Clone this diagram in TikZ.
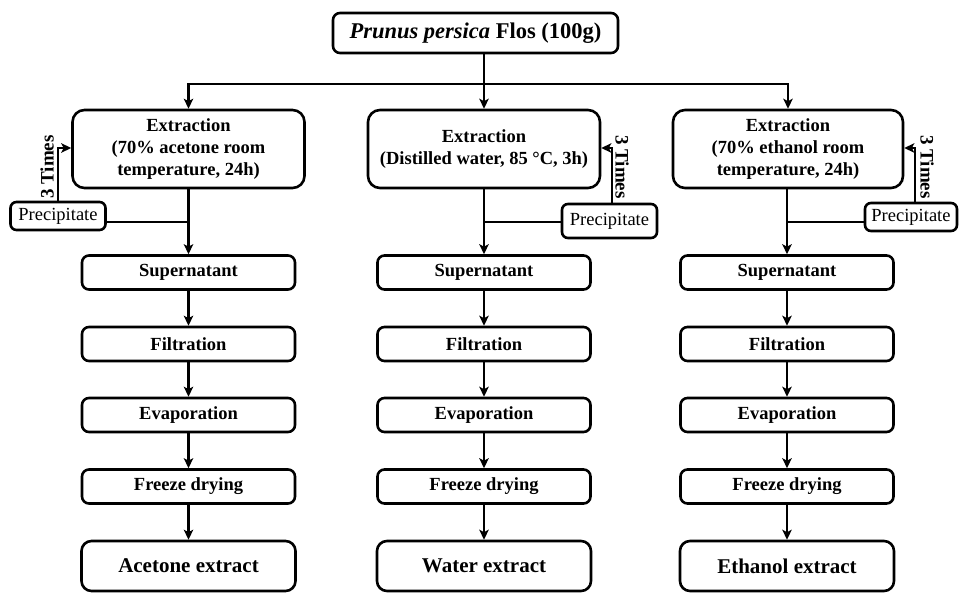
\documentclass[tikz,border=0pt]{standalone}
\usepackage{fontspec}
\setmainfont{Liberation Serif}
\usetikzlibrary{arrows.meta}
\begin{document}
\begin{tikzpicture}[x=1pt,y=-1pt,
  box/.style={draw,line width=2.6pt,rounded corners=7pt,align=center,inner sep=0pt,font=\fontsize{18.5}{22}\selectfont\bfseries},
  topbox/.style={box,minimum width=285pt,minimum height=40pt,font=\fontsize{22.5}{26}\selectfont\bfseries},
  colbox/.style={box,minimum width=213pt,minimum height=34pt},
  extbox/.style={box,minimum width=232pt,minimum height=78pt,rounded corners=12pt},
  endbox/.style={box,minimum width=214pt,minimum height=50pt,rounded corners=10pt,font=\fontsize{21}{25}\selectfont\bfseries},
  precbox/.style={box,minimum width=95pt,minimum height=28pt,rounded corners=6pt,font=\fontsize{18.5}{22}\selectfont},
  timeslbl/.style={font=\fontsize{19}{22}\selectfont\bfseries,inner sep=0pt},
  conn/.style={line width=2.5pt},
  arr/.style={conn,-{Stealth[length=10pt,width=9.5pt,inset=2.5pt]}},
]
\useasboundingbox (0,0) rectangle (960,594);

% top
\node[topbox] (top) at (475.5,33) {\textit{Prunus persica} Flos (100g)};

% extraction
\node[extbox] (ext1) at (188.5,149) {Extraction\\(70\% acetone room\\temperature, 24h)};
\node[extbox] (ext2) at (484,149) {Extraction\\(Distilled water, 85 °C, 3h)};
\node[extbox,minimum width=230pt] (ext3) at (788,149) {Extraction\\(70\% ethanol room\\temperature, 24h)};

% precipitates
\node[precbox] (p1) at (58,216) {Precipitate};
\node[precbox,minimum height=34pt] (p2) at (609.5,221) {Precipitate};
\node[precbox,minimum width=92pt] (p3) at (911,217) {Precipitate};

% column boxes
\foreach \c/\x in {1/188.5,2/484,3/787}{
  \node[colbox] (sup\c) at (\x,272.5) {Supernatant};
  \node[colbox] (fil\c) at (\x,344) {Filtration};
  \node[colbox] (eva\c) at (\x,415) {Evaporation};
  \node[colbox] (fre\c) at (\x,486.5) {Freeze drying};
}
\node[endbox] (end1) at (188.5,566) {Acetone extract};
\node[endbox] (end2) at (484,566) {Water extract};
\node[endbox] (end3) at (787,566) {Ethanol extract};

% top distribution
\coordinate (hM) at (484,84);
\coordinate (hL) at (188.5,84);
\coordinate (hR) at (788,84);
\draw[conn] (top.south -| hM) -- (hM);
\draw[arr] (hM) -- (ext2.north);
\draw[arr] (hM) -- (hL) -- (ext1.north);
\draw[arr] (hM) -- (hR) -- (ext3.north);

% loops
\coordinate (yloop) at (0,148);
\draw[arr] (p1.north) |- (ext1.west |- yloop);
\draw[arr] (p2.north -| 612,0) |- (ext2.east |- yloop);
\draw[arr] (p3.north -| 915,0) |- (ext3.east |- yloop);
\node[timeslbl,rotate=90] (t1) at (47,167) {3 Times};
\node[timeslbl,rotate=-90] (t2) at (622,167) {3 Times};
\node[timeslbl,rotate=-90] (t3) at (927,167) {3 Times};

% junctions
\coordinate (j1) at (188.5,222);
\coordinate (j2) at (484,222);
\coordinate (j3) at (787,222);
\draw[conn] (p1.east |- j1) -- (j1);
\draw[conn] (p2.west |- j2) -- (j2);
\draw[conn] (p3.west |- j3) -- (j3);

% column flows
\foreach \c in {1,2,3}{
  \draw[arr] (ext\c.south -| sup\c.north) -- (sup\c.north);
  \draw[arr] (sup\c) -- (fil\c);
  \draw[arr] (fil\c) -- (eva\c);
  \draw[arr] (eva\c) -- (fre\c);
  \draw[arr] (fre\c) -- (end\c);
}
\end{tikzpicture}
\end{document}
